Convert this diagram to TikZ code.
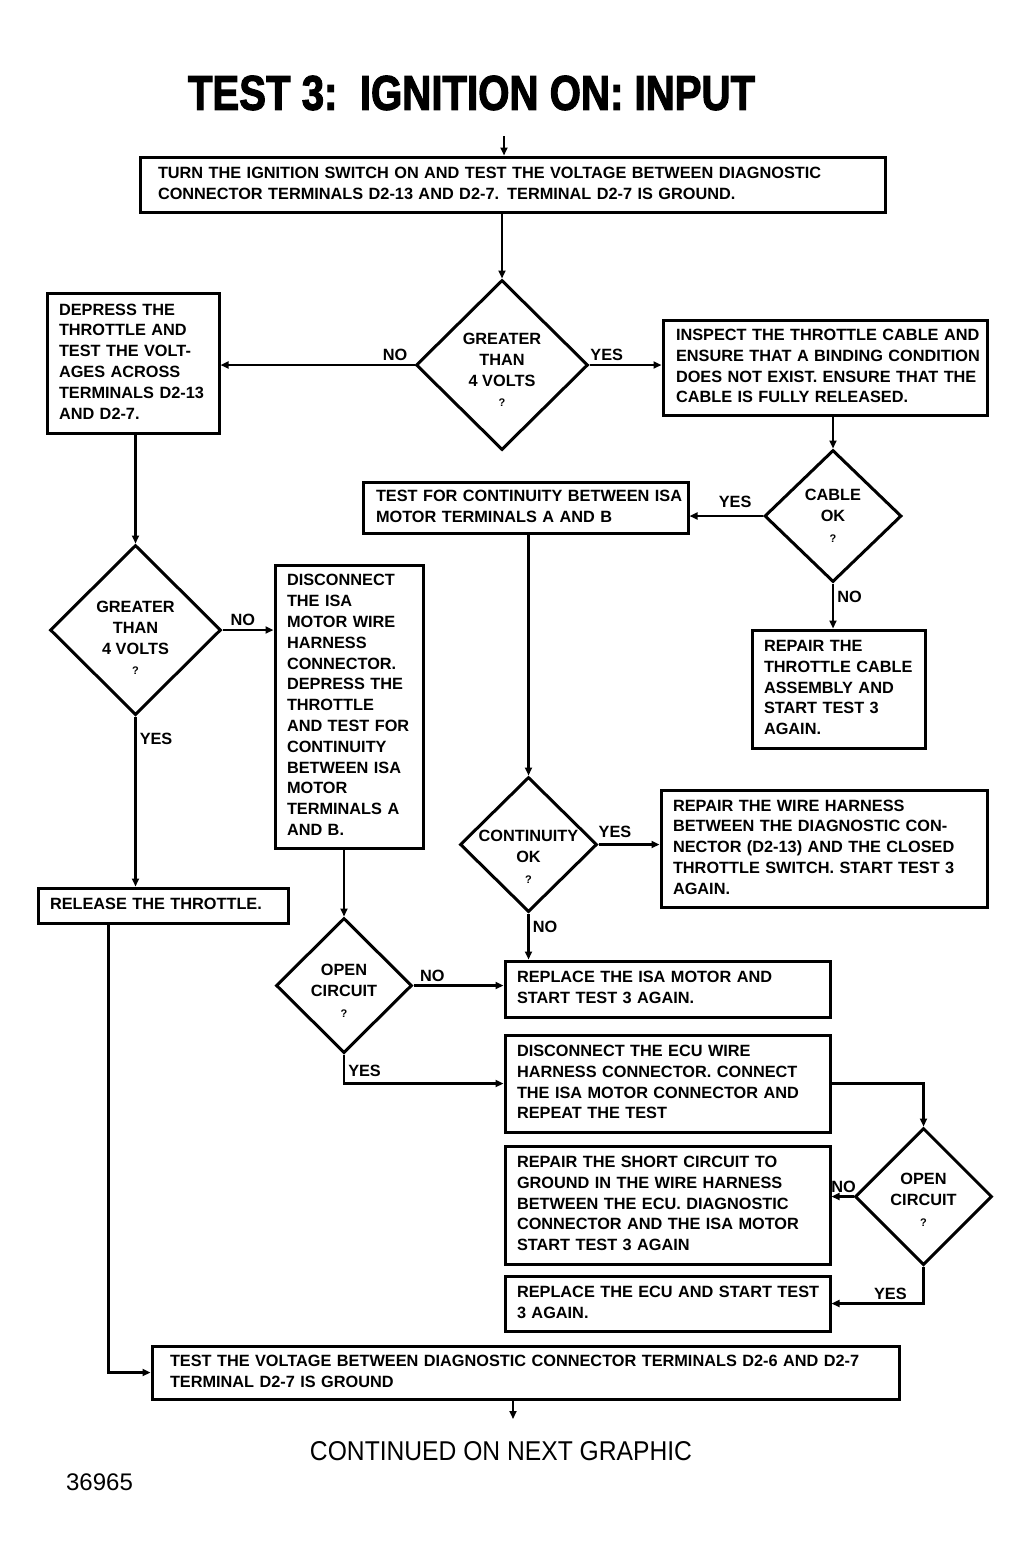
\documentclass[tikz,border=0pt]{standalone}
\usepackage{fontspec}
\setmainfont{Liberation Sans}
\newfontfamily\titlefont[FakeBold=2.5]{Liberation Sans Bold}
\usetikzlibrary{shapes.geometric,arrows.meta}
\newcommand\bodyfont{\fontsize{16.3}{20.8}\selectfont\bfseries}
\newcommand\boxlines[1]{\begin{tabular}{@{}l@{}}#1\end{tabular}}
\newcommand\qm{{\fontsize{11}{12}\selectfont ?}}
\tikzset{
  box/.style={draw, line width=3pt, inner xsep=1pt, inner ysep=0pt, align=left, font=\bodyfont},
  dia/.style={draw, diamond, line width=3pt, inner sep=0pt, shape aspect=1},
  dtext/.style={font=\bodyfont, align=center, inner sep=0pt},
  conn/.style={line width=2.5pt, -{Triangle[length=8pt,width=7pt]}},
  lab/.style={font=\bodyfont, inner sep=3pt},
}
\begin{document}
\begin{tikzpicture}[x=1pt,y=-1pt]
\useasboundingbox (0,0) rectangle (1032,1567);

% title
\node[inner sep=0pt] (title) at (471.5,93) {\resizebox{567pt}{34pt}{\titlefont TEST 3:\ \ IGNITION ON: INPUT}};

% boxes
\node[box, minimum width=745pt, minimum height=55pt, text width=709pt] (b1) at (512.5,184.5)
  {\boxlines{TURN THE IGNITION SWITCH ON AND TEST THE VOLTAGE BETWEEN DIAGNOSTIC\\CONNECTOR TERMINALS D2-13 AND D2-7. TERMINAL D2-7 IS GROUND.}};
\node[box, minimum width=172pt, minimum height=140pt, text width=148pt] (b2) at (133,363)
  {\boxlines{DEPRESS THE\\THROTTLE AND\\TEST THE VOLT-\\AGES ACROSS\\TERMINALS D2-13\\AND D2-7.}};
\node[box, minimum width=324pt, minimum height=95pt, text width=298pt] (b3) at (825,367.5)
  {\boxlines{INSPECT THE THROTTLE CABLE AND\\ENSURE THAT A BINDING CONDITION\\DOES NOT EXIST. ENSURE THAT THE\\CABLE IS FULLY RELEASED.}};
\node[box, minimum width=325pt, minimum height=51pt, text width=299pt] (b4) at (525.5,507.5)
  {\boxlines{TEST FOR CONTINUITY BETWEEN ISA\\MOTOR TERMINALS A AND B}};
\node[box, minimum width=173pt, minimum height=118pt, text width=149pt] (b5) at (838.5,689)
  {\boxlines{REPAIR THE\\THROTTLE CABLE\\ASSEMBLY AND\\START TEST 3\\AGAIN.}};
\node[box, minimum width=148pt, minimum height=283pt, text width=124pt] (b6) at (349,706.5)
  {\boxlines{DISCONNECT\\THE ISA\\MOTOR WIRE\\HARNESS\\CONNECTOR.\\DEPRESS THE\\THROTTLE\\AND TEST FOR\\CONTINUITY\\BETWEEN ISA\\MOTOR\\TERMINALS A\\AND B.}};
\node[box, minimum width=250pt, minimum height=35pt, text width=226pt] (b7) at (163,905.5)
  {\boxlines{RELEASE THE THROTTLE.}};
\node[box, minimum width=326pt, minimum height=117pt, text width=302pt] (b8) at (824,848.5)
  {\boxlines{REPAIR THE WIRE HARNESS\\BETWEEN THE DIAGNOSTIC CON-\\NECTOR (D2-13) AND THE CLOSED\\THROTTLE SWITCH. START TEST 3\\AGAIN.}};
\node[box, minimum width=325pt, minimum height=56pt, text width=301pt] (b9) at (667.5,989)
  {\boxlines{REPLACE THE ISA MOTOR AND\\START TEST 3 AGAIN.}};
\node[box, minimum width=325pt, minimum height=97pt, text width=301pt] (b10) at (667.5,1083.5)
  {\boxlines{DISCONNECT THE ECU WIRE\\HARNESS CONNECTOR. CONNECT\\THE ISA MOTOR CONNECTOR AND\\REPEAT THE TEST}};
\node[box, minimum width=325pt, minimum height=118pt, text width=301pt] (b11) at (667.5,1205)
  {\boxlines{REPAIR THE SHORT CIRCUIT TO\\GROUND IN THE WIRE HARNESS\\BETWEEN THE ECU. DIAGNOSTIC\\CONNECTOR AND THE ISA MOTOR\\START TEST 3 AGAIN}};
\node[box, minimum width=325pt, minimum height=55pt, text width=301pt] (b12) at (667.5,1303.5)
  {\boxlines{REPLACE THE ECU AND START TEST\\3 AGAIN.}};
\node[box, minimum width=747pt, minimum height=53pt, text width=711pt] (b13) at (525.5,1372.5)
  {\boxlines{TEST THE VOLTAGE BETWEEN DIAGNOSTIC CONNECTOR TERMINALS D2-6 AND D2-7\\TERMINAL D2-7 IS GROUND}};

% decisions
\node[dia, minimum width=172pt, minimum height=170pt,
  label={[dtext,yshift=-5pt]center:GREATER\\THAN\\4 VOLTS\\\qm}] (d1) at (502,365) {};
\node[dia, minimum width=137pt, minimum height=132pt,
  label={[dtext,yshift=0pt]center:CABLE\\OK\\\qm}] (d2) at (833,516) {};
\node[dia, minimum width=171pt, minimum height=170pt,
  label={[dtext,yshift=-8pt]center:GREATER\\THAN\\4 VOLTS\\\qm}] (d3) at (135.5,630) {};
\node[dia, minimum width=137pt, minimum height=135pt,
  label={[dtext,yshift=-12pt]center:CONTINUITY\\OK\\\qm}] (d4) at (528.5,844.5) {};
\node[dia, minimum width=136pt, minimum height=135pt,
  label={[dtext,yshift=-5pt]center:OPEN\\CIRCUIT\\\qm}] (d5) at (344,985.5) {};
\node[dia, minimum width=137pt, minimum height=137pt,
  label={[dtext,yshift=-3pt]center:OPEN\\CIRCUIT\\\qm}] (d6) at (923.5,1196.5) {};

% free ends
\coordinate (top) at (504,136);
\coordinate (bot) at (513,1419);

% connectors
\draw[conn] (top) -- (top |- b1.north);
\draw[conn] (d1.north |- b1.south) -- (d1.north);
\draw[conn] (d1.west) -- node[lab, pos=0.1, above] {NO} (d1.west -| b2.east);
\draw[conn] (d1.east) -- node[lab, pos=0.24, above] {YES} (d1.east -| b3.west);
\draw[conn] (d2.north |- b3.south) -- (d2.north);
\draw[conn] (d2.west) -- node[lab, pos=0.38, above=4pt] {YES} (d2.west -| b4.east);
\draw[conn] (d2.south) -- node[lab, pos=0.3, right] {NO} (d2.south |- b5.north);
\draw[conn] (d3.north |- b2.south) -- (d3.north);
\draw[conn] (d3.east) -- node[lab, pos=0.4, above] {NO} (d3.east -| b6.west);
\draw[conn] (d3.south) -- node[lab, pos=0.13, right] {YES} (d3.south |- b7.north);
\draw[conn] (d4.north |- b4.south) -- (d4.north);
\draw[conn] (d4.east) -- node[lab, pos=0.27, above=3pt] {YES} (d4.east -| b8.west);
\draw[conn] (d4.south) -- node[lab, pos=0.3, right] {NO} (d4.south |- b9.north);
\draw[conn] (d5.north |- b6.south) -- (d5.north);
\draw[conn] (d5.east) -- node[lab, pos=0.21, above] {NO} (d5.east -| b9.west);
\draw[conn] (d5.south) |- node[lab, pos=0.28, right] {YES} (b10.west);
\draw[conn] (b10.east) -| (d6.north);
\draw[conn] (d6.west) -- node[lab, pos=0.45, above] {NO} (d6.west -| b11.east);
\draw[conn] (d6.south) |- node[lab, pos=0.68, above] {YES} (b12.east);
\draw[conn] ([xshift=72pt]b7.south west) |- (b13.west);
\draw[conn] (bot |- b13.south) -- (bot);

% footer
\node[inner sep=0pt] (cont) at (501,1451) {\resizebox{382pt}{19pt}{CONTINUED ON NEXT GRAPHIC}};
\node[inner sep=0pt, font=\fontsize{24}{28}\selectfont] (num) at (99.5,1482) {36965};
\end{tikzpicture}
\end{document}
